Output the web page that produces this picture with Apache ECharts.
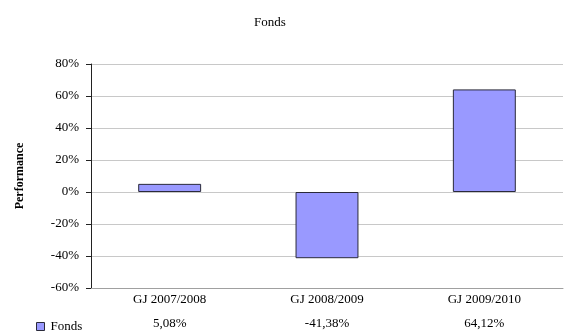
<!DOCTYPE html>
<html>
<head>
<meta charset="utf-8">
<script src="https://cdn.jsdelivr.net/npm/echarts@6/dist/echarts.min.js"></script>
<style>
  html, body { margin: 0; padding: 0; background: #fff; }
  #main { width: 565px; height: 331px; }
</style>
</head>
<body>
<div id="main"></div>
<script>
var categories = ['GJ 2007/2008', 'GJ 2008/2009', 'GJ 2009/2010'];
var fondsValues = [5.08, -41.38, 64.12];
var seriesName = 'Fonds';

var FONT = '"Liberation Serif", "DejaVu Serif", serif';

function fmtPct(v) {
  return v.toFixed(2).replace('.', ',') + '%';
}

var chart = echarts.init(document.getElementById('main'));
var option = {
  backgroundColor: '#fff',
  animation: false,
  textStyle: { fontFamily: FONT, color: '#000' },
  title: {
    text: 'Fonds',
    left: 249,
    top: 11,
    textStyle: { fontFamily: FONT, fontSize: 13, fontWeight: 'normal', color: '#000' }
  },
  legend: {
    data: [seriesName],
    left: 31,
    top: 315,
    itemWidth: 8,
    itemHeight: 8,
    itemGap: 4,
    icon: 'rect',
    itemStyle: { borderColor: '#2a2a3a', borderWidth: 1 },
    textStyle: { fontFamily: FONT, fontSize: 13, color: '#000', padding: [0, 0, 0, 1] }
  },
  grid: { left: 91, right: 2, top: 64, bottom: 43, containLabel: false, outerBoundsMode: 'none' },
  xAxis: {
    type: 'category',
    data: categories,
    axisLine: { onZero: false, lineStyle: { color: '#a0a0a0' } },
    axisTick: { show: false },
    axisLabel: {
      margin: 0,
      formatter: function (val, idx) {
        return '{c|' + val + '}\n{v|' + fmtPct(fondsValues[idx]) + '}';
      },
      rich: {
        c: { fontFamily: FONT, fontSize: 13, color: '#000', lineHeight: 24 },
        v: { fontFamily: FONT, fontSize: 13, color: '#000', lineHeight: 24 }
      }
    }
  },
  yAxis: {
    type: 'value',
    min: -60,
    max: 80,
    interval: 20,
    name: 'Performance',
    nameLocation: 'middle',
    nameGap: 65,
    nameTextStyle: { fontFamily: FONT, fontSize: 12, fontWeight: 'bold', color: '#000' },
    axisLine: { show: true, lineStyle: { color: '#222' } },
    axisTick: { show: true, length: 5, lineStyle: { color: '#222' } },
    axisLabel: {
      margin: 12,
      formatter: function (v) { return String(v).replace('\u2212', '-') + '%'; },
      fontFamily: FONT,
      fontSize: 13,
      color: '#000'
    },
    splitLine: { lineStyle: { color: '#c8c8c8' } }
  },
  series: [{
    name: seriesName,
    type: 'bar',
    data: fondsValues,
    barWidth: '40%',
    itemStyle: { color: '#9999ff', borderColor: '#2a2a3a', borderWidth: 1 }
  }]
};
chart.setOption(option);
</script>
</body>
</html>
